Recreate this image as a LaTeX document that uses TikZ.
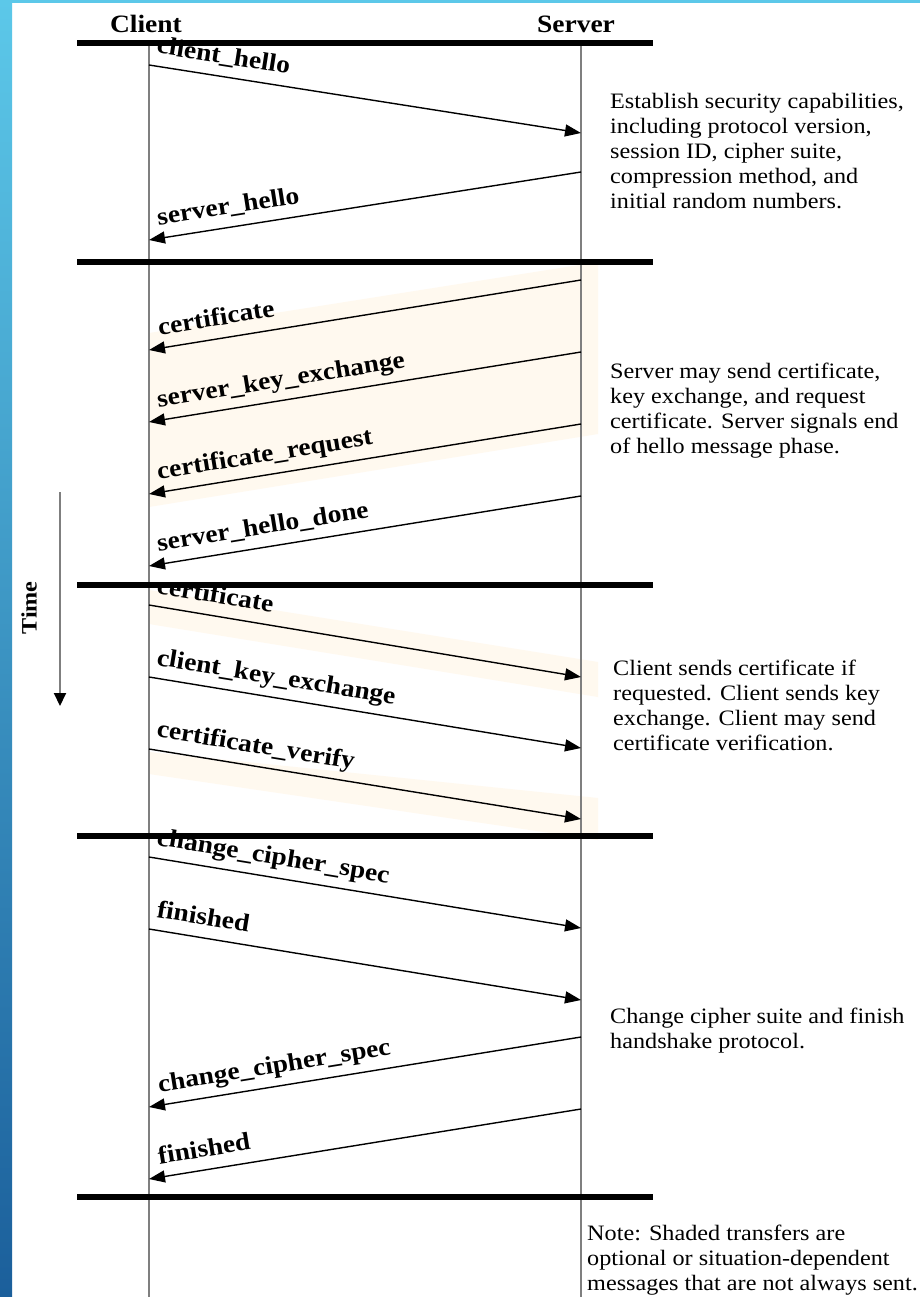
\documentclass[tikz,border=0pt]{standalone}
\usepackage{fontspec}
\setmainfont{Liberation Serif}[FakeStretch=1.1]
\usetikzlibrary{arrows.meta}
\definecolor{frametop}{HTML}{5CC8E9}
\definecolor{framemid}{HTML}{3A98CB}
\definecolor{framebot}{HTML}{1B5F9B}
\definecolor{optshade}{HTML}{FFF9EF}
\definecolor{lifegray}{HTML}{7F7F7F}
\newcommand{\us}{\textunderscore}
\begin{document}
\begin{tikzpicture}[x=1pt,y=-1pt,
  lifeline/.style={draw=lifegray, line width=2.4pt},
  phasebar/.style={draw=black, line width=6pt},
  msg/.style={draw=black, line width=1.4pt, -{Triangle[length=16pt,width=12pt]}},
  msglabel/.style={font=\fontsize{25}{28}\selectfont\bfseries, inner sep=0pt, sloped, anchor=base west, yshift=13pt},
  desc/.style={font=\fontsize{22}{25}\selectfont, align=left, inner sep=0pt, anchor=north west},
  header/.style={font=\fontsize{25}{28}\selectfont\bfseries, inner sep=0pt, anchor=base},
  optional/.style={fill=optshade}
]
\useasboundingbox (0,0) rectangle (920,1297);
\fill[white] (0,0) rectangle (920,1297);

% slide frame: shaded strip on the left, thin band on top
\shade[top color=frametop, middle color=framemid, bottom color=framebot] (0,0) rectangle (12,1297);
\fill[frametop] (0,0) rectangle (920,3);

% shading behind the optional transfers
\fill[optional] (149,333) -- (598,262) -- (598,434) -- (149,507) -- cycle;
\fill[optional] (149,590) -- (598,662) -- (598,697) -- (149,624) -- cycle;
\fill[optional] (149,752) -- (598,798) -- (598,840) -- (149,774) -- cycle;

% lifelines
\coordinate (cTop) at (149,43);
\coordinate (cBot) at (149,1300);
\coordinate (sTop) at (581,43);
\coordinate (sBot) at (581,1300);
\draw[lifeline] (cTop) -- (cBot);
\draw[lifeline] (sTop) -- (sBot);

% message end points on the lifelines
\coordinate (c1) at (149,65);   \coordinate (s1) at (581,133);
\coordinate (s2) at (581,172);  \coordinate (c2) at (149,240);
\coordinate (s3) at (581,280);  \coordinate (c3) at (149,350);
\coordinate (s4) at (581,352);  \coordinate (c4) at (149,422);
\coordinate (s5) at (581,424);  \coordinate (c5) at (149,494);
\coordinate (s6) at (581,496);  \coordinate (c6) at (149,566);
\coordinate (c7) at (149,605);  \coordinate (s7) at (581,677);
\coordinate (c8) at (149,677);  \coordinate (s8) at (581,748);
\coordinate (c9) at (149,749);  \coordinate (s9) at (581,819);
\coordinate (c10) at (149,857); \coordinate (s10) at (581,928);
\coordinate (c11) at (149,929); \coordinate (s11) at (581,1000);
\coordinate (s12) at (581,1037); \coordinate (c12) at (149,1107);
\coordinate (s13) at (581,1109); \coordinate (c13) at (149,1179);

% phase 1: hello exchange
\draw[msg] (c1) -- node[msglabel, pos=0.01] (m1) {client\us hello} (s1);
\draw[msg] (s2) -- node[msglabel, pos=0.975] (m2) {server\us hello} (c2);
% phase 2: server messages
\draw[msg] (s3) -- node[msglabel, pos=0.973] (m3) {certificate} (c3);
\draw[msg] (s4) -- node[msglabel, pos=0.975] (m4) {server\us key\us exchange} (c4);
\draw[msg] (s5) -- node[msglabel, pos=0.975] (m5) {certificate\us request} (c5);
\draw[msg] (s6) -- node[msglabel, pos=0.975] (m6) {server\us hello\us done} (c6);
% phase 3: client messages
\draw[msg] (c7) -- node[msglabel, pos=0.01] (m7) {certificate} (s7);
\draw[msg] (c8) -- node[msglabel, pos=0.01] (m8) {client\us key\us exchange} (s8);
\draw[msg] (c9) -- node[msglabel, pos=0.01] (m9) {certificate\us verify} (s9);
% phase 4: finish
\draw[msg] (c10) -- node[msglabel, pos=0.01] (m10) {change\us cipher\us spec} (s10);
\draw[msg] (c11) -- node[msglabel, pos=0.01] (m11) {finished} (s11);
\draw[msg] (s12) -- node[msglabel, pos=0.973] (m12) {change\us cipher\us spec} (c12);
\draw[msg] (s13) -- node[msglabel, pos=0.973] (m13) {finished} (c13);

% phase separators
\foreach \y/\n in {43.5/b0, 261.5/b1, 584.5/b2, 835.5/b3, 1196.5/b4}{
  \coordinate (\n l) at (77,\y);
  \coordinate (\n r) at (653,\y);
  \draw[phasebar] (\n l) -- (\n r);
}

% headings
\node[header] (client) at (146,33) {Client};
\node[header] (server) at (576,33) {Server};

% time axis
\coordinate (t0) at (60,492);
\coordinate (t1) at (60,706);
\draw[draw=lifegray, line width=2pt, -{Triangle[length=13pt,width=12pt,color=black]}] (t0) -- (t1);
\node[rotate=90, inner sep=0pt, font=\fontsize{22}{24}\selectfont\bfseries] (time) at (29,608) {Time};

% phase descriptions
\node[desc] (d1) at (610,93) {Establish security capabilities,\\including protocol version,\\session ID, cipher suite,\\compression method, and\\initial random numbers.};
\node[desc] (d2) at (610,363) {Server may send certificate,\\key exchange, and request\\certificate. Server signals end\\of hello message phase.};
\node[desc] (d3) at (613,660) {Client sends certificate if\\requested. Client sends key\\exchange. Client may send\\certificate verification.};
\node[desc] (d4) at (610,1008) {Change cipher suite and finish\\handshake protocol.};
\node[desc, font=\fontsize{22}{25}\selectfont] (note) at (587,1225) {Note: Shaded transfers are\\optional or situation-dependent\\messages that are not always sent.};
\end{tikzpicture}
\end{document}
